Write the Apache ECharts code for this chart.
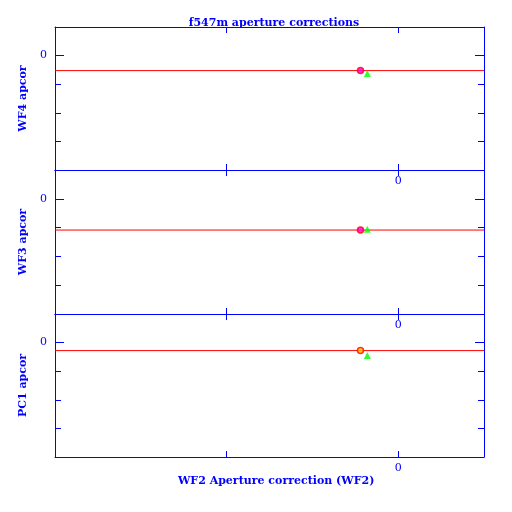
<!DOCTYPE html>
<html>
<head>
<meta charset="utf-8">
<script src="https://cdn.jsdelivr.net/npm/echarts@6/dist/echarts.min.js"></script>
<style>
html, body { margin: 0; padding: 0; background: #fff; }
#main { width: 512px; height: 512px; }
</style>
</head>
<body>
<div id="main"></div>
<script>
// panel names (top to bottom)
var panelNames = ['WF4 apcor', 'WF3 apcor', 'PC1 apcor'];
// WF2 aperture correction (x) for each panel
var redX = [-0.022, -0.022, -0.022];
var greenX = [-0.018, -0.018, -0.018];
// panel apcor values (y)
var redY = [-0.0105, -0.0217, -0.0056];
var greenY = [-0.0126, -0.0212, -0.0091];
// fill of the red circles
var redFill = ['#ff00ff', '#ff00ff', '#ffcc00'];
// axis ranges
var xMin = -0.2, xMax = 0.05;
var yMin = -0.08, yMax = 0.02;

var blue = '#0000ff';
var font = 'DejaVu Serif';

var myChart = echarts.init(document.getElementById('main'));

var grids = [], xAxes = [], yAxes = [], series = [];
var tops = [27, 170, 314];
var heights = [143, 144, 143];

function zeroOnly(v) { return Math.abs(v) < 1e-9 ? '0' : ''; }

for (var i = 0; i < 3; i++) {
	grids.push({ left: 55, right: 28, top: tops[i], height: heights[i], show: false });
	// bottom x axis with label
	xAxes.push({
		gridIndex: i, type: 'value', position: 'bottom',
		min: xMin, max: xMax, interval: 0.1,
		axisLine: { show: true, onZero: false, lineStyle: { color: blue, width: 1 } },
		axisTick: { show: true, inside: true, length: 6, lineStyle: { color: blue } },
		axisLabel: { show: true, color: blue, fontFamily: font, fontSize: 11, margin: 6, formatter: zeroOnly },
		splitLine: { show: false }
	});
	// top x axis, ticks only
	xAxes.push({
		gridIndex: i, type: 'value', position: 'top',
		min: xMin, max: xMax, interval: 0.1,
		axisLine: { show: true, onZero: false, lineStyle: { color: blue, width: 1 } },
		axisTick: { show: true, inside: true, length: 6, lineStyle: { color: blue } },
		axisLabel: { show: false },
		splitLine: { show: false }
	});
	yAxes.push({
		gridIndex: i, type: 'value', position: 'left',
		name: panelNames[i], nameLocation: 'middle', nameGap: 13, nameRotate: 90,
		nameTextStyle: { color: blue, fontFamily: font, fontSize: 11, fontWeight: 'bold' },
		min: yMin, max: yMax, interval: 0.02,
		axisLine: { show: true, onZero: false, lineStyle: { color: blue, width: 1 } },
		axisTick: { show: true, inside: true, length: 6, lineStyle: { color: blue } },
		axisLabel: { show: true, color: blue, fontFamily: font, fontSize: 11, margin: 8, formatter: zeroOnly },
		splitLine: { show: false }
	});
	yAxes.push({
		gridIndex: i, type: 'value', position: 'right',
		min: yMin, max: yMax, interval: 0.02,
		axisLine: { show: true, onZero: false, lineStyle: { color: blue, width: 1 } },
		axisTick: { show: true, inside: true, length: 6, lineStyle: { color: blue } },
		axisLabel: { show: false },
		splitLine: { show: false }
	});

	// horizontal line at the red value
	series.push({
		type: 'line', xAxisIndex: i * 2, yAxisIndex: i * 2,
		data: [[xMin, redY[i]], [xMax, redY[i]]],
		showSymbol: false, symbol: 'none',
		lineStyle: { color: '#ff0000', width: 1 },
		z: 2
	});
	series.push({
		type: 'scatter', xAxisIndex: i * 2, yAxisIndex: i * 2,
		data: [[greenX[i], greenY[i]]],
		symbol: 'triangle', symbolSize: 7,
		itemStyle: { color: '#00ff00' },
		z: 3
	});
	series.push({
		type: 'scatter', xAxisIndex: i * 2, yAxisIndex: i * 2,
		data: [[redX[i], redY[i]]],
		symbol: 'circle', symbolSize: 6,
		itemStyle: { color: redFill[i], borderColor: '#ff0000', borderWidth: 1.5 },
		z: 4
	});
}

// longer major tick at 0, left and right
for (var i = 0; i < 3; i++) {
	['left', 'right'].forEach(function (pos) {
		yAxes.push({
			gridIndex: i, type: 'value', position: pos, offset: 0,
			min: yMin, max: yMax,
			axisLine: { show: false, onZero: false, lineStyle: { color: blue } },
			axisTick: { show: true, inside: true, length: 9, customValues: [0], lineStyle: { color: blue } },
			axisLabel: { show: false },
			splitLine: { show: false }
		});
	});
}

option = {
	backgroundColor: '#ffffff',
	animation: false,
	title: {
		text: 'f547m aperture corrections',
		left: 269, top: 13, textAlign: 'center',
		textStyle: { color: blue, fontFamily: font, fontSize: 11, fontWeight: 'bold' }
	},
	graphic: [{
		type: 'text', left: 178, top: 476,
		style: {
			text: 'WF2 Aperture correction (WF2)',
			fill: blue, font: 'bold 11px "DejaVu Serif"'
		}
	}],
	grid: grids,
	xAxis: xAxes,
	yAxis: yAxes,
	series: series
};

myChart.setOption(option);
</script>
</body>
</html>
